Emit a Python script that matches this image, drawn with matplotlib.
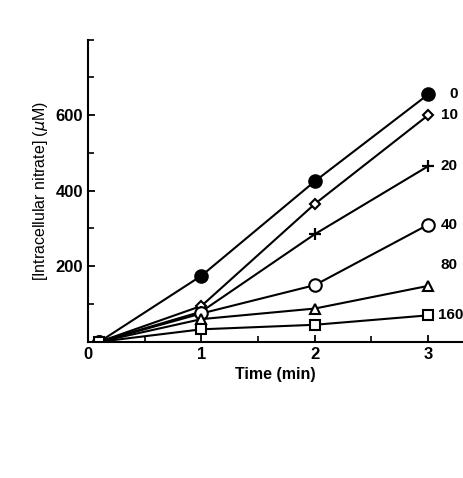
import matplotlib.pyplot as plt
from matplotlib.ticker import MultipleLocator

times = [0.1, 1, 2, 3]
conc_labels = ['0', '10', '20', '40', '80', '160']
nitrate_0 = [0, 175, 425, 655]
nitrate_10 = [0, 95, 365, 600]
nitrate_20 = [0, 80, 285, 465]
nitrate_40 = [0, 75, 150, 310]
nitrate_80 = [0, 60, 88, 148]
nitrate_160 = [0, 33, 45, 70]

series = [nitrate_0, nitrate_10, nitrate_20, nitrate_40, nitrate_80, nitrate_160]
styles = [
    dict(marker='o', ms=9, mfc='black'),
    dict(marker='D', ms=5, mfc='white'),
    dict(marker='+', ms=8, mew=1.6),
    dict(marker='o', ms=9, mfc='white'),
    dict(marker='^', ms=7, mfc='white'),
    dict(marker='s', ms=7, mfc='white'),
]
label_offsets = [(15, 0), (9, 0), (9, 0), (9, 0), (9, 15), (7, 0)]

plt.rcParams['font.family'] = 'Liberation Sans'
fig = plt.figure(figsize=(4.64, 4.78), dpi=100)
ax = fig.add_axes([0.19, 0.285, 0.806, 0.632])

for vals, st, lab, off in zip(series, styles, conc_labels, label_offsets):
    ax.plot(times, vals, color='black', lw=1.5, mec='black', mew=st.pop('mew', 1.5), **st)
    ax.annotate(lab, (times[-1], vals[-1]), xytext=off, textcoords='offset points',
                va='center', ha='left', fontsize=11, fontweight='bold', annotation_clip=False)

ax.set_xlim(0, 3.3)
ax.set_ylim(0, 800)
ax.set_xticks([0, 1, 2, 3])
ax.set_yticks([200, 400, 600])
ax.xaxis.set_minor_locator(MultipleLocator(0.5))
ax.yaxis.set_minor_locator(MultipleLocator(100))
ax.spines['top'].set_visible(False)
ax.spines['right'].set_visible(False)
ax.spines['left'].set_linewidth(1.5)
ax.spines['bottom'].set_linewidth(1.5)
ax.tick_params(direction='in', width=1.3, length=5, labelsize=12)
ax.tick_params(which='minor', direction='in', width=1.2, length=4)
for t in ax.get_xticklabels() + ax.get_yticklabels():
    t.set_fontweight('bold')
ax.set_xlabel('Time (min)', fontsize=11.5, fontweight='bold')
ax.set_ylabel('[Intracellular nitrate] ($\\mu$M)', fontsize=11.5)

fig.savefig('out.png', dpi=100)
